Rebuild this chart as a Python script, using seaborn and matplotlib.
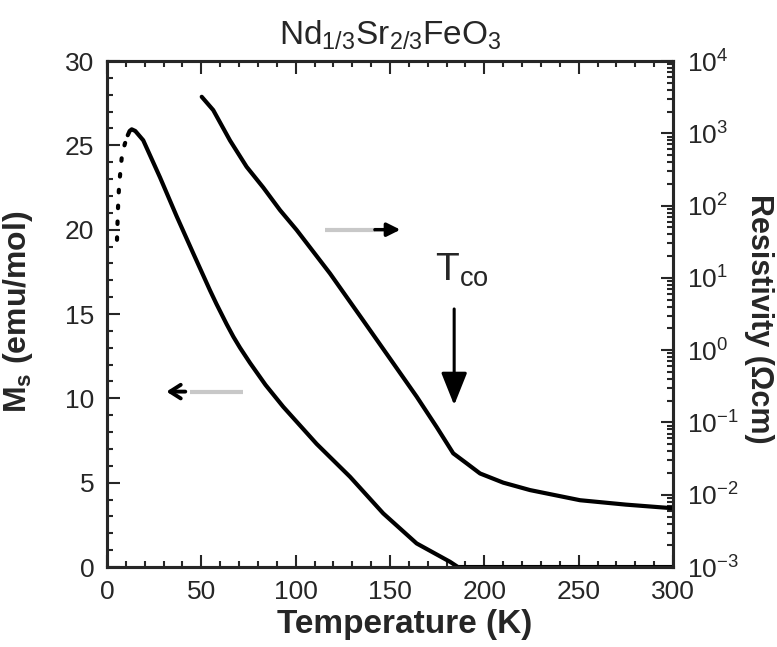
import matplotlib
matplotlib.use("Agg")
import matplotlib.pyplot as plt
import seaborn as sns
import pandas as pd
from matplotlib.ticker import MultipleLocator, FixedLocator, FixedFormatter, LogLocator, NullFormatter

# ---------------- data ----------------
temp_ms_dotted = [5.3, 5.8, 6.4, 7.4, 8.0, 9.5, 11.0]
ms_dotted = [19.4, 21.2, 22.6, 23.8, 24.5, 25.1, 25.6]

temp_ms = [11.0, 12.0, 13.1, 15.0, 19.2, 28.1, 36.9, 45.7, 54.6, 58.0, 63.4,
           67.0, 70.5, 75.8, 84.0, 93.4, 111.1, 128.8, 146.4, 164.1, 181.8,
           186.0, 300.0]
ms = [25.6, 25.85, 25.95, 25.85, 25.3, 23.1, 20.8, 18.6, 16.4, 15.6, 14.4,
      13.65, 13.0, 12.1, 10.8, 9.5, 7.3, 5.35, 3.18, 1.40, 0.31,
      0.0, 0.0]

temp_rho = [50.2, 56.3, 65.2, 74.0, 82.8, 91.7, 100.5, 118.2, 135.9, 151.7,
            164.1, 174.7, 183.5, 190.6, 197.7, 210.0, 224.2, 250.7, 275.0, 300.0]
rho = [3200, 2094, 795, 344, 178, 86.5, 46, 11.5, 2.55, 0.66,
       0.228, 0.0865, 0.0374, 0.0272, 0.0197, 0.0147, 0.0116, 0.0084, 0.0073, 0.0065]

x_ticks = [0, 50, 100, 150, 200, 250, 300]
ms_ticks = [0, 5, 10, 15, 20, 25, 30]
ms_tick_labels = ["0", "5", "10", "15", "20", "25", "30"]
rho_ticks = [1e-3, 1e-2, 1e-1, 1e0, 1e1, 1e2, 1e3, 1e4]
rho_tick_labels = ["10$^{-3}$", "10$^{-2}$", "10$^{-1}$", "10$^{0}$",
                   "10$^{1}$", "10$^{2}$", "10$^{3}$", "10$^{4}$"]

title = "Nd$_{1/3}$Sr$_{2/3}$FeO$_3$"
x_label = "Temperature (K)"
y_label = "M$_s$ (emu/mol)"
y2_label = "Resistivity (\u03a9cm)"

# ---------------- style ----------------
sns.set_style("ticks")
plt.rcParams["font.family"] = ["Liberation Sans", "DejaVu Sans"]
plt.rcParams["mathtext.fontset"] = "custom"
plt.rcParams["mathtext.rm"] = "Liberation Sans"
plt.rcParams["mathtext.default"] = "regular"

df_ms = pd.DataFrame({"T": temp_ms, "Ms": ms})
df_ms_dot = pd.DataFrame({"T": temp_ms_dotted, "Ms": ms_dotted})
df_rho = pd.DataFrame({"T": temp_rho, "rho": rho})

fig = plt.figure(figsize=(7.77, 6.47), dpi=100)
ax = fig.add_axes([0.1377, 0.1236, 0.7285, 0.7821])

sns.lineplot(data=df_ms, x="T", y="Ms", ax=ax, color="black", lw=3,
             sort=False, estimator=None)
sns.lineplot(data=df_ms_dot, x="T", y="Ms", ax=ax, color="black", lw=3,
             sort=False, estimator=None, dashes=False)
ax.lines[-1].set_dashes([0.6, 3.2])
ax.lines[-1].set_dash_capstyle("round")

ax.set_xlim(0, 300)
ax.set_ylim(0, 30)
ax.xaxis.set_major_locator(FixedLocator(x_ticks))
ax.xaxis.set_minor_locator(MultipleLocator(10))
ax.yaxis.set_major_locator(FixedLocator(ms_ticks))
ax.yaxis.set_major_formatter(FixedFormatter(ms_tick_labels))
ax.yaxis.set_minor_locator(MultipleLocator(1))
ax.tick_params(which="both", direction="in", top=True, right=False,
               width=1.5, labelsize=19)
ax.tick_params(which="major", length=9)
ax.tick_params(which="minor", length=4.5)
ax.tick_params(axis="x", pad=9)
ax.tick_params(axis="y", pad=9)

ax.set_xlabel(x_label, fontsize=24, fontweight="bold")
ax.xaxis.set_label_coords(0.525, -0.082)
ax.set_ylabel(y_label, fontsize=23, fontweight="bold")
ax.yaxis.set_label_coords(-0.128, 0.505)
ax.set_title(title, fontsize=24, pad=12)

# right axis: resistivity (log)
ax2 = ax.twinx()
sns.lineplot(data=df_rho, x="T", y="rho", ax=ax2, color="black", lw=3,
             sort=False, estimator=None)
ax2.set_yscale("log")
ax2.set_ylim(1e-3, 1e4)
ax2.set_xlim(0, 300)
ax2.yaxis.set_major_locator(FixedLocator(rho_ticks))
ax2.yaxis.set_major_formatter(FixedFormatter(rho_tick_labels))
ax2.yaxis.set_minor_locator(LogLocator(base=10, subs=range(2, 10), numticks=20))
ax2.yaxis.set_minor_formatter(NullFormatter())
ax2.tick_params(which="both", direction="in", width=1.5, labelsize=19, pad=10)
ax2.tick_params(which="major", length=9)
ax2.tick_params(which="minor", length=4.5)
ax2.set_ylabel(y2_label, fontsize=22, fontweight="bold", rotation=270)
ax2.yaxis.set_label_coords(1.178, 0.49)

for a in (ax, ax2):
    for s in a.spines.values():
        s.set_linewidth(2.2)
        s.set_visible(True)

# annotations (arrows + label)
ax.plot([44, 72], [10.4, 10.4], color="#c8c8c8", lw=3, solid_capstyle="butt")
ax.annotate("", xy=(31.5, 10.4), xytext=(41.5, 10.4),
            arrowprops=dict(arrowstyle="->,head_length=0.55,head_width=0.35",
                            lw=2.8, color="black", shrinkA=0, shrinkB=0,
                            mutation_scale=14))
ax.plot([115.5, 142], [20.0, 20.0], color="#c8c8c8", lw=3, solid_capstyle="butt")
ax.annotate("", xy=(155.5, 20.0), xytext=(142, 20.0),
            arrowprops=dict(arrowstyle="-|>,head_length=0.5,head_width=0.25",
                            lw=2.5, color="black", shrinkA=0, shrinkB=0,
                            mutation_scale=16))
ax.annotate("", xy=(184, 9.6), xytext=(184, 15.3),
            arrowprops=dict(arrowstyle="-|>,head_length=1.0,head_width=0.4",
                            lw=2.2, color="black", shrinkA=0, shrinkB=0,
                            mutation_scale=20))
ax.text(188, 17.6, "T$_{co}$", ha="center", va="center", fontsize=28)

fig.savefig("out.png", dpi=100, facecolor="white")
